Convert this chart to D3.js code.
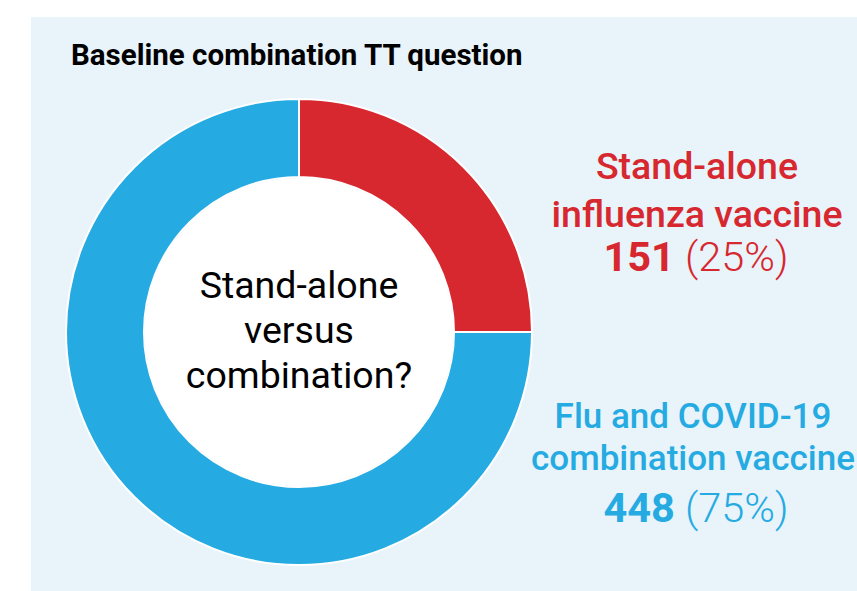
<!DOCTYPE html>
<html lang="en">
<head>
    <meta charset="UTF-8">
    <title>Baseline combination TT question</title>
    <script src="https://cdn.jsdelivr.net/npm/d3@7"></script>
    <style>
        body {
          margin: 0;
          background: #fff;
        }
        text {
          font-family: Roboto, "Noto Sans", sans-serif;
        }
    </style>
</head>
<body>
    <script>
        // data
        let categories = ['Stand-alone influenza vaccine', 'Flu and COVID-19 combination vaccine'];
        let counts = [151, 448];
        let percents = [25, 75];
        let colors = ['#d7282f', '#25abe2'];
        let labelLines = [['Stand-alone', 'influenza vaccine'], ['Flu and COVID-19', 'combination vaccine']];
        let centerLines = ['Stand-alone', 'versus', 'combination?'];

        let w = 857;
        let h = 591;
        let cx = 299;
        let cy = 332;
        let outer = 233;
        let inner = 155;

        let svg = d3.select('body')
                    .append('svg')
                    .attr('width', w)
                    .attr('height', h);

        svg.append('rect')
           .attr('x', 31)
           .attr('y', 17)
           .attr('width', w - 31)
           .attr('height', h - 17)
           .attr('fill', '#e8f3fa');

        svg.append('text')
           .attr('x', 71)
           .attr('y', 65)
           .attr('font-size', 29.5)
           .attr('font-weight', 'bold')
           .attr('fill', '#000')
           .text('Baseline combination TT question');

        let pie = d3.pie().sort(null).value(d => d);
        let arc = d3.arc().innerRadius(inner).outerRadius(outer);

        let g = svg.append('g').attr('transform', 'translate(' + cx + ',' + cy + ')');

        g.selectAll('path')
         .data(pie(percents))
         .enter()
         .append('path')
         .attr('d', arc)
         .attr('fill', (d, i) => colors[i])
         .attr('stroke', '#fff')
         .attr('stroke-width', 2);

        g.append('circle').attr('r', inner - 1).attr('fill', '#fff');

        g.append('text')
         .attr('text-anchor', 'middle')
         .attr('font-size', 37.5)
         .attr('fill', '#000')
         .selectAll('tspan')
         .data(centerLines)
         .enter()
         .append('tspan')
         .attr('x', 0)
         .attr('y', (d, i) => -34 + i * 45)
         .text(d => d);

        // side labels: [x, first baseline, line gap, number baseline, font size]
        let labelPos = [[697, 179, 48, 271, 37.5], [693, 428, 42, 522, 35]];

        categories.forEach(function(c, i) {
            let p = labelPos[i];
            let t = svg.append('text')
                       .attr('text-anchor', 'middle')
                       .attr('fill', colors[i])
                       .attr('font-size', p[4])
                       .attr('font-weight', 500);
            labelLines[i].forEach(function(line, j) {
                t.append('tspan')
                 .attr('x', p[0])
                 .attr('y', p[1] + j * p[2])
                 .text(line);
            });
            let n = svg.append('text')
                       .attr('text-anchor', 'middle')
                       .attr('x', 696)
                       .attr('y', p[3])
                       .attr('fill', colors[i])
                       .attr('font-size', 41.5);
            n.append('tspan').attr('font-weight', 'bold').text(counts[i]);
            n.append('tspan').attr('font-weight', 300).text(' (' + percents[i] + '%)');
        });
    </script>
</body>
</html>
